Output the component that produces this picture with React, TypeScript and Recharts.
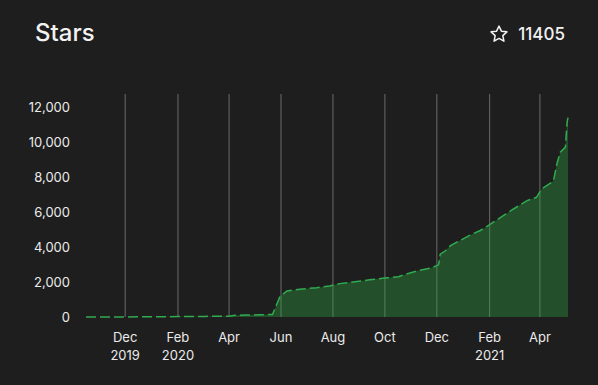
import { AreaChart, Area, XAxis, YAxis, CartesianGrid } from 'recharts';

// star history
const dates = [
  '2019-10-16', '2019-12-01', '2020-01-11', '2020-02-01', '2020-03-04', '2020-04-01',
  '2020-04-08', '2020-04-22', '2020-05-07', '2020-05-22', '2020-05-27', '2020-05-31',
  '2020-06-04', '2020-06-08', '2020-06-23', '2020-07-13', '2020-07-28', '2020-08-09',
  '2020-08-29', '2020-09-13', '2020-10-03', '2020-10-17', '2020-10-23', '2020-11-08',
  '2020-11-24', '2020-12-03', '2020-12-05', '2020-12-11', '2020-12-17', '2020-12-29',
  '2021-01-10', '2021-01-21', '2021-02-01', '2021-02-17', '2021-03-01', '2021-03-17',
  '2021-03-28', '2021-04-03', '2021-04-15', '2021-04-17', '2021-04-21', '2021-04-25',
  '2021-05-01', '2021-05-02', '2021-05-03', '2021-05-04',
];
const stars = [
  0, 5, 15, 25, 35, 50,
  100, 110, 130, 140, 730, 1200,
  1340, 1490, 1590, 1680, 1780, 1910,
  2030, 2125, 2240, 2300, 2410, 2640,
  2800, 2985, 3600, 3790, 4080, 4400,
  4710, 4950, 5280, 5800, 6180, 6660,
  6850, 7330, 7710, 7810, 8770, 9430,
  9720, 10490, 11160, 11405,
];

const tickDates = [
  '2019-12-01', '2020-02-01', '2020-04-01', '2020-06-01', '2020-08-01',
  '2020-10-01', '2020-12-01', '2021-02-01', '2021-04-01',
];
const tickMonths = ['Dec', 'Feb', 'Apr', 'Jun', 'Aug', 'Oct', 'Dec', 'Feb', 'Apr'];
const tickYears = ['2019', '2020', '', '', '', '', '', '2021', ''];
const yTicks = [0, 2000, 4000, 6000, 8000, 10000, 12000];

const data = dates.map((d, i) => ({ t: Date.parse(d), stars: stars[i] }));
const xTicks = tickDates.map((d) => Date.parse(d));
const tMin = data[0].t;
const tMax = data[data.length - 1].t;

const FONT = 'Inter, "Noto Sans", sans-serif';

const DateTick = ({ x, y, payload }: { x?: number; y?: number; payload?: { value: number } }) => {
  const i = xTicks.indexOf(payload?.value ?? -1);
  if (i < 0) return null;
  return (
    <g>
      <text x={x} y={(y ?? 0) + 25} textAnchor="middle" fill="#ebebeb" fontSize={13} fontFamily={FONT}>
        {tickMonths[i]}
      </text>
      {tickYears[i] && (
        <text x={x} y={(y ?? 0) + 43} textAnchor="middle" fill="#ebebeb" fontSize={13} fontFamily={FONT}>
          {tickYears[i]}
        </text>
      )}
    </g>
  );
};

// grid only at the month ticks, not at the plot edges
// eslint-disable-next-line @typescript-eslint/no-explicit-any
const gridX = (props: any) => {
  const { offset } = props;
  return xTicks.map((t) => offset.left + (offset.width * (t - tMin)) / (tMax - tMin));
};

export default function App() {
  return (
    <div style={{ position: 'relative', width: 598, height: 385, background: '#1e1e1e', fontFamily: FONT, overflow: 'hidden' }}>
      <style>{'body{margin:0}'}</style>
      {/* Header */}
      <div style={{ position: 'absolute', left: 35, top: 18, fontSize: 24, fontWeight: 500, color: '#f2f2f2' }}>Stars</div>
      <div style={{ position: 'absolute', right: 33, top: 24, display: 'flex', alignItems: 'center', gap: 9, color: '#f2f2f2', fontSize: 17, fontWeight: 500 }}>
        <svg width={20} height={20} viewBox="0 0 24 24">
          <path
            d="M12 2.5l2.9 6.1 6.6.8-4.9 4.6 1.3 6.6L12 17.3l-5.9 3.3 1.3-6.6-4.9-4.6 6.6-.8z"
            fill="none" stroke="#f2f2f2" strokeWidth={1.8} strokeLinejoin="round"
          />
        </svg>
        <span>11405</span>
      </div>

      <div style={{ position: 'absolute', left: 0, top: 0 }}>
        <AreaChart width={598} height={385} data={data} margin={{ top: 94, right: 30, left: 0, bottom: 28 }}>
          <CartesianGrid horizontal={false} stroke="#6b6b6b" verticalCoordinatesGenerator={gridX} />
          <XAxis
            dataKey="t" type="number" domain={['dataMin', 'dataMax']} ticks={xTicks} interval={0}
            axisLine={false} tickLine={false} tickSize={0} tickMargin={0} height={40}
            tick={<DateTick />}
          />
          <YAxis
            type="number" domain={[0, 12760]} ticks={yTicks} width={86}
            axisLine={false} tickLine={false} tickSize={0} tickMargin={16}
            tickFormatter={(v: number) => v.toLocaleString('en-US')}
            tick={{ fill: '#ebebeb', fontSize: 13, fontFamily: FONT }}
          />
          <Area
            type="linear" dataKey="stars" stroke="#30ab50" strokeWidth={1.5} strokeDasharray="10 4"
            fill="#2ea043" fillOpacity={0.38} dot={false} activeDot={false} isAnimationActive={false}
          />
        </AreaChart>
      </div>
    </div>
  );
}
